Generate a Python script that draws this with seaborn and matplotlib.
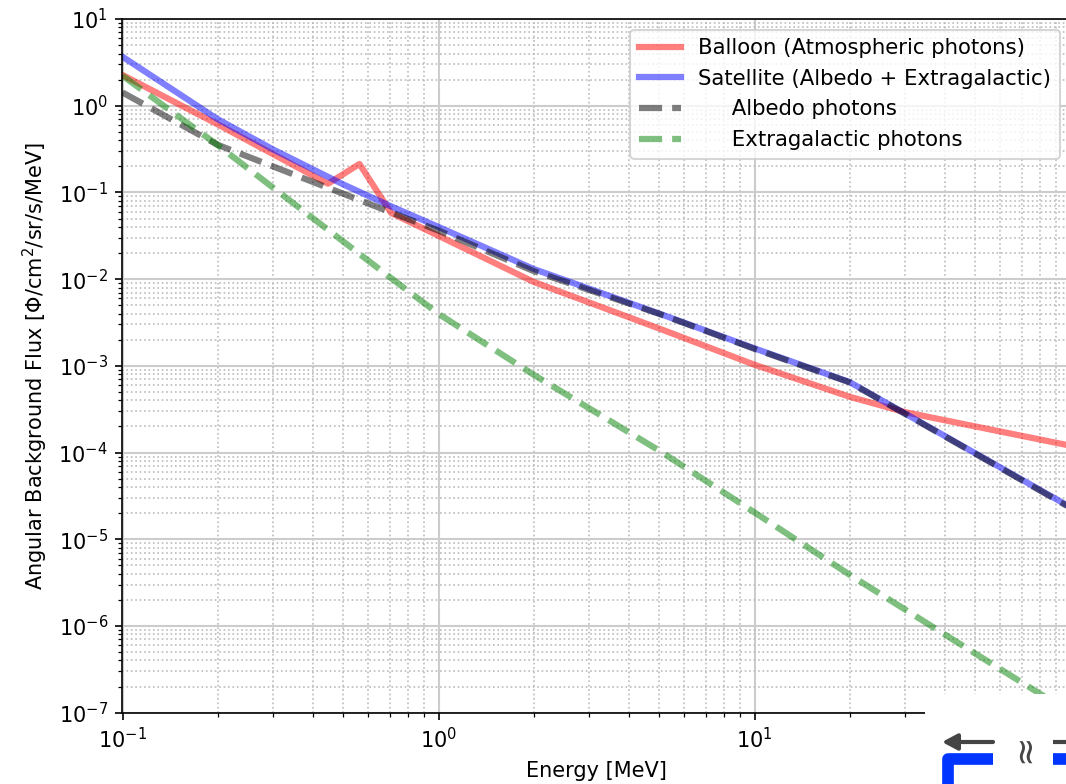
import matplotlib
matplotlib.use("Agg")
import matplotlib.pyplot as plt
from matplotlib.patches import Rectangle, FancyArrowPatch
from matplotlib.lines import Line2D
import pandas as pd
import seaborn as sns

# Balloon: atmospheric photons (with the 511 keV annihilation bump)
balloon_energy = [0.1, 0.2, 0.447, 0.562, 0.708, 1.0, 2.0, 5.0, 10.0, 20.0, 30.0, 50.0, 100.0]
balloon_flux = [2.26, 0.61, 0.126, 0.213, 0.058, 0.0316, 9.3e-3, 2.69e-3, 1.03e-3,
                4.4e-4, 2.92e-4, 2.0e-4, 1.2e-4]

# Satellite: albedo + extragalactic
satellite_energy = [0.1, 0.2, 0.3, 0.5, 0.7, 1.0, 2.0, 5.0, 10.0, 20.0, 50.0, 100.0]
satellite_flux = [3.67, 0.70, 0.312, 0.1235, 0.0704, 0.040, 0.0131, 4.0e-3, 1.59e-3,
                  6.5e-4, 9.8e-5, 2.34e-5]

# Albedo photons
albedo_energy = [0.1, 0.2, 0.3, 0.5, 0.7, 1.0, 2.0, 5.0, 10.0, 20.0, 50.0, 100.0]
albedo_flux = [1.42, 0.354, 0.199, 0.0964, 0.0598, 0.0363, 0.0124, 3.97e-3, 1.57e-3,
               6.45e-4, 9.7e-5, 2.3e-5]

# Extragalactic (cosmic diffuse) photons
extragalactic_energy = [0.1, 0.2, 0.3, 0.5, 0.7, 1.0, 2.0, 5.0, 10.0, 20.0, 50.0, 100.0]
extragalactic_flux = [2.22, 0.352, 0.113, 0.0271, 0.0106, 3.98e-3, 7.9e-4, 1.05e-4,
                      2.04e-5, 3.9e-6, 4.8e-7, 1.0e-7]

labels = ["Balloon (Atmospheric photons)",
          "Satellite (Albedo + Extragalactic)",
          "     Albedo photons",
          "     Extragalactic photons"]
x_ticks = [0.1, 1, 10]

W, H, DPI = 1066, 784, 150
fig = plt.figure(figsize=(W / DPI, H / DPI), dpi=DPI)
ax = fig.add_axes([122.5 / W, (H - 712.7) / H, 948.0 / W, 693.7 / H])

series = [
    (balloon_energy, balloon_flux, "r", "-", labels[0]),
    (satellite_energy, satellite_flux, "b", "-", labels[1]),
    (albedo_energy, albedo_flux, "k", "--", labels[2]),
    (extragalactic_energy, extragalactic_flux, "g", "--", labels[3]),
]
for e, f, c, ls, lab in series:
    df = pd.DataFrame({"energy": e, "flux": f})
    sns.lineplot(data=df, x="energy", y="flux", color=c, alpha=0.5, lw=3,
                 linestyle=ls, label=lab, ax=ax, sort=True)

ax.set_xscale("log")
ax.set_yscale("log")
ax.set_xlim(0.1, 100)
ax.set_ylim(1e-7, 10)
ax.set_xticks(x_ticks)
ax.grid(True, which="major", ls="-", color="#cccccc", lw=1.0)
ax.grid(True, which="minor", ls=":", color="#bbbbbb", lw=0.8)
ax.set_axisbelow(True)
ax.set_xlabel("Energy [MeV]")
ax.set_ylabel("Angular Background Flux [Φ/cm$^2$/sr/s/MeV]")
ax.legend(loc="upper right", fontsize=10.2)


def px(x, y):
    return (x / W, 1 - y / H)


# navigation widget overlapping the lower right corner
fig.add_artist(Rectangle(px(925, 784), (W - 925) / W, (784 - 694) / H,
                         transform=fig.transFigure, facecolor="white",
                         edgecolor="none", zorder=10))
fig.add_artist(FancyArrowPatch(px(993, 742), px(942, 742), transform=fig.transFigure,
                               arrowstyle="-|>,head_length=6,head_width=3.2",
                               color="#444444", lw=2.0, zorder=11,
                               shrinkA=0, shrinkB=0))
fig.add_artist(Line2D([1053 / W, 1066 / W], [1 - 742 / H, 1 - 742 / H],
                      transform=fig.transFigure, color="#444444", lw=2.0,
                      solid_capstyle="butt", zorder=11))
fig.text(*px(1025, 748), "≈", rotation=90, ha="center", va="center",
         fontsize=17, color="#444444", zorder=11)
fig.add_artist(Line2D([993 / W, 947.5 / W, 947.5 / W],
                      [1 - 759 / H, 1 - 759 / H, 1 - 790 / H],
                      transform=fig.transFigure, color="#0035ff", lw=5.6,
                      solid_joinstyle="round", solid_capstyle="butt", zorder=11))
fig.add_artist(Line2D([1053 / W, 1066 / W], [1 - 759 / H, 1 - 759 / H],
                      transform=fig.transFigure, color="#0035ff", lw=5.6,
                      solid_capstyle="butt", zorder=11))

fig.savefig("out.png", dpi=DPI)
